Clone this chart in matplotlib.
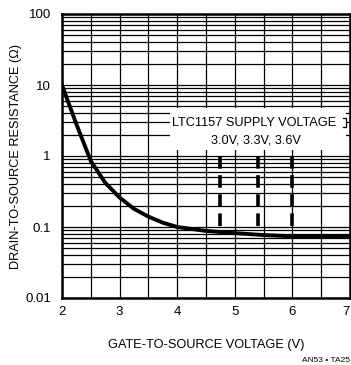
import matplotlib.pyplot as plt
import numpy as np
from matplotlib.patches import Rectangle
from matplotlib.ticker import FixedLocator, NullFormatter

plt.rcParams["font.family"] = ["Liberation Sans", "DejaVu Sans"]

# curve
vgs = [2.0, 2.25, 2.5, 2.75, 3.0, 3.25, 3.5, 3.75, 4.0, 4.5, 5.0, 5.5, 6.0, 6.5, 7.0]
rds = [10.0, 2.8, 0.85, 0.42, 0.26, 0.18, 0.14, 0.115, 0.1, 0.088, 0.082, 0.077, 0.074, 0.074, 0.075]

supply_v = [4.75, 5.4, 6.0]
supply_top = 1.0
supply_bottom = 0.1

xticks = [2, 3, 4, 5, 6, 7]
yticks = [0.01, 0.1, 1, 10, 100]
ytick_labels = ["0.01", "0.1", "1", "10", "100"]

fig = plt.figure(figsize=(3.51, 3.65), dpi=100)
ax = fig.add_axes([62 / 351, 67 / 365, 288 / 351, 284 / 365])
ax.set_xlim(2, 7)
ax.set_yscale("log")
ax.set_ylim(0.01, 100)

ax.set_xticks(xticks)
ax.set_yticks(yticks)
ax.set_yticklabels(ytick_labels)
ax.xaxis.set_minor_locator(FixedLocator(np.arange(2.5, 7, 1.0)))
ax.yaxis.set_minor_formatter(NullFormatter())
ax.grid(True, which="both", color="black", linewidth=0.9)
ax.tick_params(which="both", length=0, labelsize=9.5)
ax.tick_params(axis="x", pad=6)
ax.tick_params(axis="y", pad=8)
for s in ax.spines.values():
    s.set_linewidth(1.8)
# last x label sits at the figure edge
ax.get_xticklabels()[-1].set_horizontalalignment("right")

ax.plot(vgs, rds, color="black", linewidth=2.8, zorder=3)

for v in supply_v:
    ax.plot([v, v], [supply_top, supply_bottom], color="black", linewidth=2.6,
            dashes=(3.5, 1.8), zorder=3)

# label box over the grid
ax.add_patch(Rectangle((3.87, 1.2), 3.06, 3.5, facecolor="white", edgecolor="none", zorder=2.5))
ax.text(5.33, 2.9, "LTC1157 SUPPLY VOLTAGE", ha="center", va="center", fontsize=9.2, zorder=4)
ax.text(5.36, 1.63, "3.0V, 3.3V, 3.6V", ha="center", va="center", fontsize=9.2, zorder=4)
ax.plot([6.88, 6.93, 6.93, 6.88], [3.4, 3.4, 2.55, 2.55], color="black", linewidth=0.9, zorder=5)

ax.set_xlabel("GATE-TO-SOURCE VOLTAGE (V)", fontsize=9.2, labelpad=15)
ax.set_ylabel("DRAIN-TO-SOURCE RESISTANCE (Ω)", fontsize=9.2, labelpad=2)
fig.text(350 / 351, 1 - 360 / 365, "AN53 • TA25", ha="right", va="center", fontsize=6)

fig.savefig("out.png", dpi=100)
